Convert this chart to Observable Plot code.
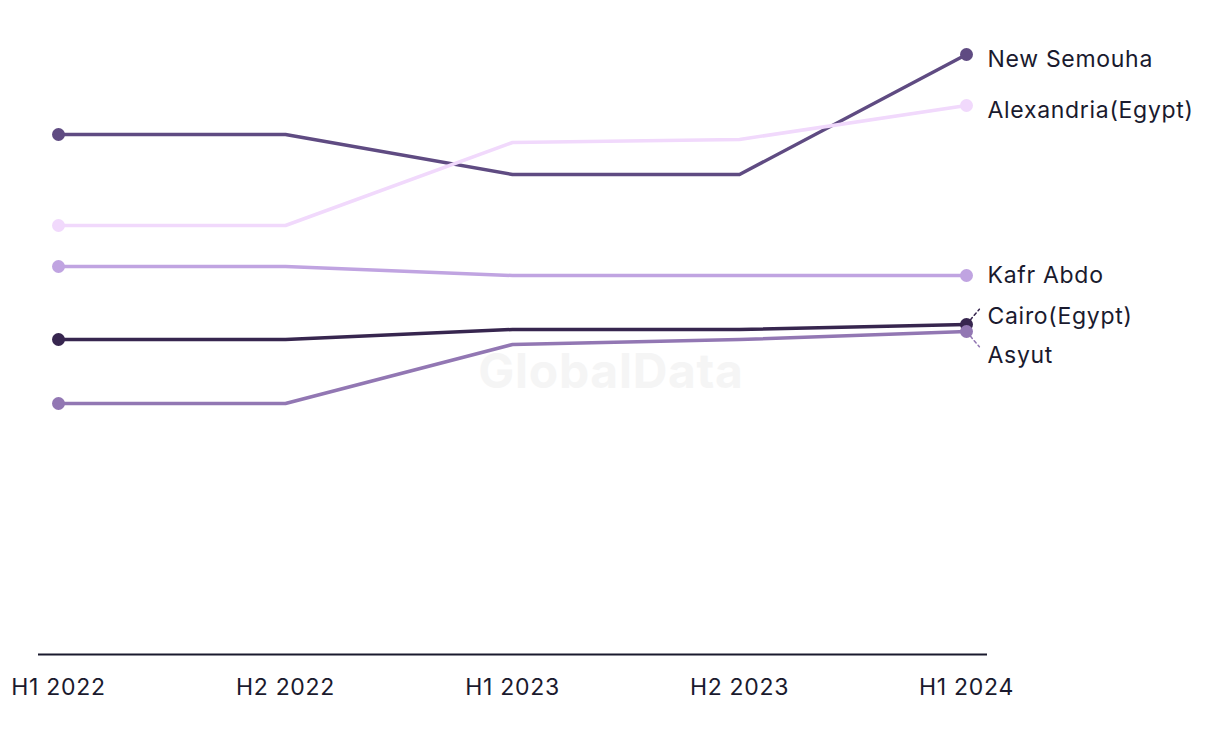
<!DOCTYPE html>
<html>
<head>
<meta charset="utf-8">
<script src="https://cdn.jsdelivr.net/npm/d3@7"></script>
<script src="https://cdn.jsdelivr.net/npm/@observablehq/plot@0.6"></script>
<style>
  html, body { margin: 0; padding: 0; background: #ffffff; }
  #chart { width: 1220px; height: 744px; }
</style>
</head>
<body>
<div id="chart"></div>
<script>
const periods = ["H1 2022", "H2 2022", "H1 2023", "H2 2023", "H1 2024"];
const seriesNames = ["New Semouha", "Alexandria(Egypt)", "Kafr Abdo", "Cairo(Egypt)", "Asyut"];
const newSemouha  = [520, 520, 480, 480, 600];
const alexandria  = [429, 429, 512, 515, 549];
const kafrAbdo    = [388, 388, 379, 379, 379];
const cairo       = [315, 315, 325, 325, 330];
const asyut       = [251, 251, 310, 315, 323];
const seriesColors = ["#5f4b82", "#f1d9fc", "#c0a4e1", "#37264f", "#9277b3"];

const seriesValues = [newSemouha, alexandria, kafrAbdo, cairo, asyut];
const data = seriesNames.flatMap((name, i) =>
  periods.map((p, j) => ({ series: name, period: p, value: seriesValues[i][j] }))
);
const ends = data.filter(d => d.period === periods[0] || d.period === periods[periods.length - 1]);
const last = data.filter(d => d.period === periods[periods.length - 1]);
const textColor = "#1a1a2e";
const font = "Inter, 'Noto Sans', sans-serif";

const leaderShape = {
  draw(context, l) {
    context.moveTo(0, 0);
    context.lineTo(0, -l);
  }
};

const chart = Plot.plot({
  width: 1220,
  height: 744,
  marginLeft: 38,
  marginRight: 233,
  marginTop: 54,
  marginBottom: 90,
  insetLeft: 20,
  insetRight: 21,
  style: { fontFamily: font, fontSize: "23px", color: textColor, background: "#ffffff", letterSpacing: "0.7px" },
  x: { type: "point", domain: periods, padding: 0, label: null, tickSize: 0, tickPadding: 24 },
  y: { domain: [0, 600], axis: null },
  color: { domain: seriesNames, range: seriesColors },
  marks: [
    Plot.text(["GlobalData"], {
      frameAnchor: "middle", dx: 98, dy: 18,
      fontSize: 48, fontWeight: "bold", fill: "#f5f5f5", fontFamily: font
    }),
    Plot.ruleY([0], { stroke: "#1a1a2e", strokeWidth: 2 }),
    Plot.line(data, {
      x: "period", y: "value", z: "series", stroke: "series",
      strokeWidth: 3.5, curve: "linear"
    }),
    Plot.vector(last.filter(d => d.series === "Cairo(Egypt)"), {
      x: "period", y: "value", anchor: "start", length: 20, rotate: 40,
      shape: leaderShape, stroke: "series", strokeWidth: 1.5, strokeDasharray: "3,3"
    }),
    Plot.vector(last.filter(d => d.series === "Asyut"), {
      x: "period", y: "value", anchor: "start", length: 20, rotate: 140,
      shape: leaderShape, stroke: "series", strokeWidth: 1.5, strokeDasharray: "3,3"
    }),
    Plot.dot(ends, { x: "period", y: "value", fill: "series", r: 6.5 }),
    Plot.text(last.filter(d => ["New Semouha", "Alexandria(Egypt)"].includes(d.series)), {
      x: "period", y: "value", text: "series", dx: 21, dy: 5,
      textAnchor: "start", fill: textColor, fontSize: 23
    }),
    Plot.text(last.filter(d => d.series === "Kafr Abdo"), {
      x: "period", y: "value", text: "series", dx: 21, dy: 0,
      textAnchor: "start", fill: textColor, fontSize: 23
    }),
    Plot.text(last.filter(d => d.series === "Cairo(Egypt)"), {
      x: "period", y: "value", text: "series", dx: 21, dy: -8,
      textAnchor: "start", fill: textColor, fontSize: 23
    }),
    Plot.text(last.filter(d => d.series === "Asyut"), {
      x: "period", y: "value", text: "series", dx: 21, dy: 24,
      textAnchor: "start", fill: textColor, fontSize: 23
    })
  ]
});
document.getElementById("chart").appendChild(chart);
</script>
</body>
</html>
